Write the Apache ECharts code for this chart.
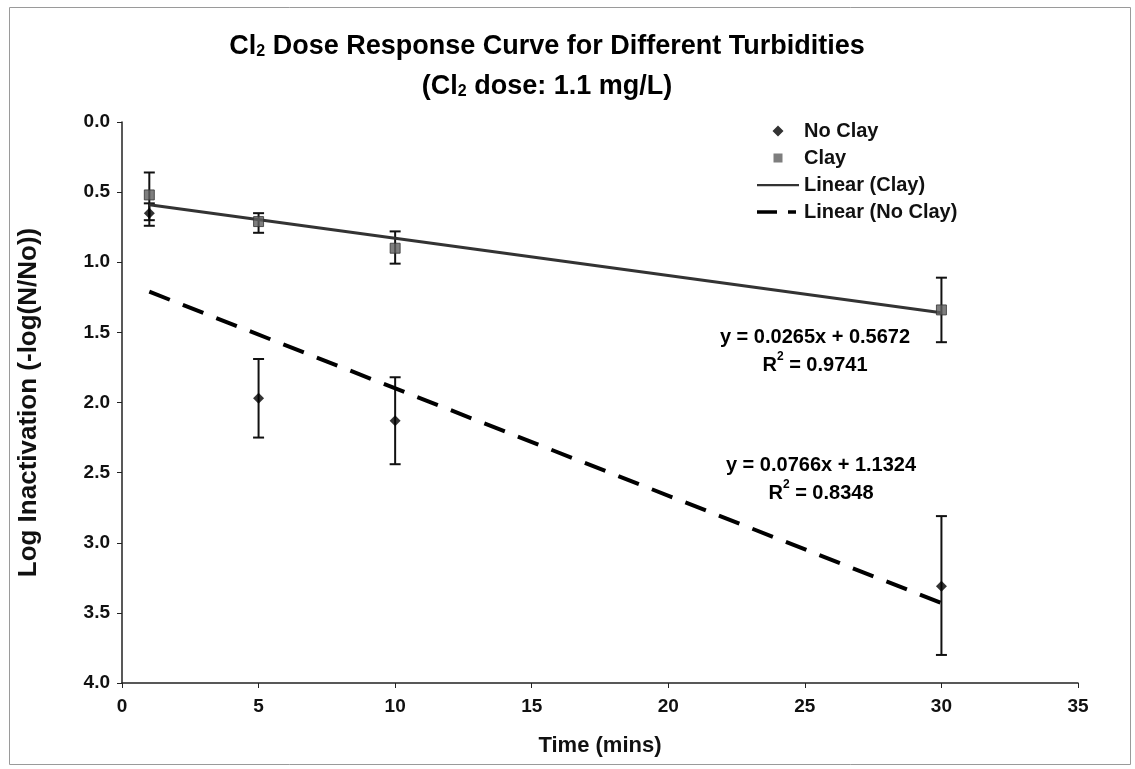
<!DOCTYPE html>
<html>
<head>
<meta charset="utf-8">
<script src="https://cdn.jsdelivr.net/npm/echarts@6/dist/echarts.min.js"></script>
<style>html,body{margin:0;padding:0;background:#fff}#c{width:1135px;height:769px}</style>
</head>
<body>
<div id="c"></div>
<script>
// ---- data ----
var times = [1, 5, 10, 30];
var noClay = [0.65, 1.97, 2.13, 3.31];
var noClayLow = [0.58, 1.69, 1.82, 2.81];
var noClayHigh = [0.74, 2.25, 2.44, 3.80];
var clay = [0.52, 0.71, 0.90, 1.34];
var clayLow = [0.36, 0.65, 0.78, 1.11];
var clayHigh = [0.70, 0.79, 1.01, 1.57];
var trendX = [1, 30];
var trendClay = [0.59, 1.36];
var trendNoClay = [1.21, 3.43];
var xTicks = [0, 5, 10, 15, 20, 25, 30, 35];
var yTicks = [0.0, 0.5, 1.0, 1.5, 2.0, 2.5, 3.0, 3.5, 4.0];
var eqClay = ['y = 0.0265x + 0.5672', '0.9741'];
var eqNoClay = ['y = 0.0766x + 1.1324', '0.8348'];

var FONT = '"Liberation Sans", Arial, sans-serif';

function pairs(xs, ys) { return xs.map(function (x, i) { return [x, ys[i]]; }); }
function errData(lo, hi) { return times.map(function (t, i) { return [t, lo[i], hi[i]]; }); }

function errRender(params, api) {
  var x = api.value(0);
  var p1 = api.coord([x, api.value(1)]);
  var p2 = api.coord([x, api.value(2)]);
  var w = 5.5;
  var st = { stroke: '#111', lineWidth: 2 };
  return {
    type: 'group',
    children: [
      { type: 'line', shape: { x1: p1[0], y1: p1[1], x2: p2[0], y2: p2[1] }, style: st },
      { type: 'line', shape: { x1: p1[0] - w, y1: p1[1], x2: p1[0] + w, y2: p1[1] }, style: st },
      { type: 'line', shape: { x1: p2[0] - w, y1: p2[1], x2: p2[0] + w, y2: p2[1] }, style: st }
    ]
  };
}

// legend icons: a fixed 42x11 frame (tiny corner points) keeps every icon at its true size
var FRAME = 'M0,0L0.01,0L0,0.01Z M42,11L41.99,11L42,10.99Z ';
var iconDiamond = 'path://' + FRAME + 'M21,0L26.5,5.5L21,11L15.5,5.5Z';
var iconSquare = 'path://' + FRAME + 'M16.5,1L25.5,1L25.5,10L16.5,10Z';
var iconSolid = 'path://' + FRAME + 'M0,4.5L42,4.5L42,6.8L0,6.8Z';
var iconDashed = 'path://' + FRAME + 'M0,3.8L20,3.8L20,7.2L0,7.2Z M31,3.8L39,3.8L39,7.2L31,7.2Z';

var chart = echarts.init(document.getElementById('c'), null, { renderer: 'canvas' });
var labelStyle = { fontFamily: FONT, fontWeight: 'bold', fontSize: 19, color: '#111' };

chart.setOption({
  backgroundColor: '#fff',
  animation: false,
  textStyle: { fontFamily: FONT },
  grid: { left: 122, right: 57, top: 122, bottom: 86 },
  xAxis: {
    type: 'value', min: 0, max: 35, interval: 5, position: 'bottom',
    name: 'Time (mins)', nameLocation: 'middle', nameGap: 52,
    nameTextStyle: { fontFamily: FONT, fontWeight: 'bold', fontSize: 22, color: '#111' },
    axisLine: { onZero: false, lineStyle: { color: '#222', width: 1.5 } },
    axisTick: { show: true, inside: false, length: 5, lineStyle: { color: '#222' } },
    axisLabel: Object.assign({ margin: 14, formatter: function (v) { return xTicks.indexOf(v) >= 0 ? String(v) : ''; } }, labelStyle),
    splitLine: { show: false }
  },
  yAxis: {
    type: 'value', min: 0, max: 4, interval: 0.5, inverse: true,
    name: 'Log Inactivation (-log(N/No))', nameLocation: 'middle', nameGap: 80,
    nameTextStyle: { fontFamily: FONT, fontWeight: 'bold', fontSize: 26, color: '#111' },
    axisLine: { show: true, onZero: false, lineStyle: { color: '#222', width: 1.5 } },
    axisTick: { show: true, inside: false, length: 5, lineStyle: { color: '#222' } },
    axisLabel: Object.assign({ margin: 12, formatter: function (v) { return v.toFixed(1); } }, labelStyle),
    splitLine: { show: false }
  },
  legend: {
    orient: 'vertical', left: 752, top: 116,
    itemWidth: 42, itemHeight: 11, itemGap: 7,
    itemStyle: { borderWidth: 0 },
    textStyle: { fontFamily: FONT, fontWeight: 'bold', fontSize: 20, color: '#111' },
    data: [
      { name: 'No Clay', icon: iconDiamond },
      { name: 'Clay', icon: iconSquare },
      { name: 'Linear (Clay)', icon: iconSolid },
      { name: 'Linear (No Clay)', icon: iconDashed }
    ]
  },
  series: [
    {
      type: 'custom', renderItem: errRender, data: errData(clayLow, clayHigh),
      encode: { x: 0, y: [1, 2] }, z: 3, silent: true
    },
    {
      type: 'custom', renderItem: errRender, data: errData(noClayLow, noClayHigh),
      encode: { x: 0, y: [1, 2] }, z: 3, silent: true
    },
    {
      name: 'Linear (Clay)', type: 'line', data: pairs(trendX, trendClay),
      symbol: 'none', z: 4,
      lineStyle: { color: '#333', width: 3, type: 'solid' },
      itemStyle: { color: '#333' }
    },
    {
      name: 'Linear (No Clay)', type: 'line', data: pairs(trendX, trendNoClay),
      symbol: 'none', z: 4,
      lineStyle: { color: '#000', width: 4, type: [22, 14] },
      itemStyle: { color: '#000' }
    },
    {
      name: 'No Clay', type: 'scatter', data: pairs(times, noClay),
      symbol: 'diamond', symbolSize: 11, z: 5,
      itemStyle: { color: '#000' }
    },
    {
      name: 'Clay', type: 'scatter', data: pairs(times, clay),
      symbol: 'rect', symbolSize: 10, z: 6,
      itemStyle: { color: '#5e5e5e', borderColor: '#333', borderWidth: 1 }
    }
  ],
  graphic: [
    {
      type: 'rect', left: 7, top: 5, silent: true, z: -10,
      shape: { width: 1121, height: 757 },
      style: { fill: 'none', stroke: '#9a9a9a', lineWidth: 1 }
    },
    {
      type: 'text', x: 547, y: 20, silent: true,
      style: {
        text: '{a|Cl}{s|2}{a| Dose Response Curve for Different Turbidities}\n{a|(Cl}{s|2}{a| dose: 1.1 mg/L)}',
        align: 'center', verticalAlign: 'top',
        rich: {
          a: { fontFamily: FONT, fontWeight: 'bold', fontSize: 27, color: '#111', lineHeight: 40, verticalAlign: 'bottom' },
          s: { fontFamily: FONT, fontWeight: 'bold', fontSize: 16, color: '#111', lineHeight: 33, verticalAlign: 'bottom' }
        }
      }
    },
    {
      type: 'text', x: 815, y: 323, silent: true,
      style: {
        text: '{a|' + eqClay[0] + '}\n{a|R}{p|2}{a| = ' + eqClay[1] + '}',
        align: 'center', verticalAlign: 'top',
        rich: {
          a: { fontFamily: FONT, fontWeight: 'bold', fontSize: 20, color: '#111', lineHeight: 28, verticalAlign: 'middle' },
          p: { fontFamily: FONT, fontWeight: 'bold', fontSize: 12, color: '#111', lineHeight: 16, verticalAlign: 'top' }
        }
      }
    },
    {
      type: 'text', x: 821, y: 451, silent: true,
      style: {
        text: '{a|' + eqNoClay[0] + '}\n{a|R}{p|2}{a| = ' + eqNoClay[1] + '}',
        align: 'center', verticalAlign: 'top',
        rich: {
          a: { fontFamily: FONT, fontWeight: 'bold', fontSize: 20, color: '#111', lineHeight: 28, verticalAlign: 'middle' },
          p: { fontFamily: FONT, fontWeight: 'bold', fontSize: 12, color: '#111', lineHeight: 16, verticalAlign: 'top' }
        }
      }
    }
  ]
});
</script>
</body>
</html>
